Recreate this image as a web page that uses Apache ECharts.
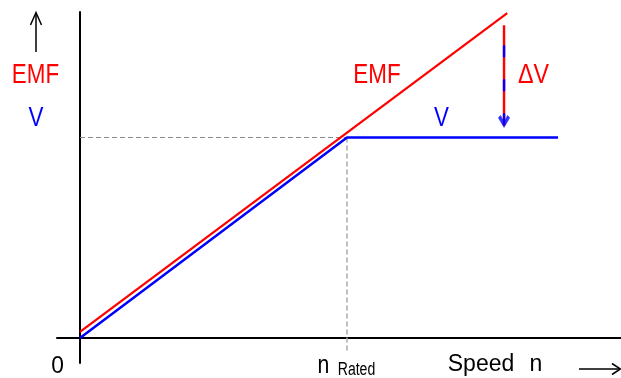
<!DOCTYPE html>
<html>
<head>
<meta charset="utf-8">
<script src="https://cdn.jsdelivr.net/npm/echarts@6/dist/echarts.min.js"></script>
<style>
html,body{margin:0;padding:0;background:#fff;}
#chart{width:621px;height:378px;}
</style>
</head>
<body>
<div id="chart"></div>
<script>
// Speed (x, in units of rated speed) vs voltage (y, in units of rated V)
const emfLine = [[0, 0.03], [1.6, 1.62]];
const vLine = [[0, 0], [1, 1], [1.79, 1]];
const ratedH = [[0, 1], [1, 1]];
const ratedV = [[1, 1], [1, -0.07]];
const dvShaft = [[1.588, 1.56], [1.588, 1.06]];
const dvDash = [[1.588, 1.46], [1.588, 1.06]];
const dvTip = [[1.588, 1.047]];
const xRange = [-0.0861, 2.026];
const yRange = [-0.125, 1.626];

const FONT = 'Liberation Sans, Arial, sans-serif';
const chevron = 'path://M0,2.2 L2.2,0 L5,5.6 L7.8,0 L10,2.2 L5,11 Z';

function txt(text, x, y, size, color, sx, align) {
  return {
    type: 'text', x: x, y: y, scaleX: sx || 1, silent: true,
    style: {text: text, fill: color, font: size + 'px ' + FONT,
            textAlign: align || 'center', textVerticalAlign: 'middle'}
  };
}

const chart = echarts.init(document.getElementById('chart'), null, {renderer: 'canvas'});
chart.setOption({
  animation: false,
  backgroundColor: '#fff',
  grid: {left: 57, right: 0, top: 12, bottom: 15, containLabel: false},
  xAxis: {
    type: 'value', min: xRange[0], max: xRange[1],
    axisLine: {show: true, onZero: true, lineStyle: {color: '#000', width: 2}},
    axisTick: {show: false}, axisLabel: {show: false}, splitLine: {show: false}
  },
  yAxis: {
    type: 'value', min: yRange[0], max: yRange[1],
    axisLine: {show: true, onZero: true, lineStyle: {color: '#000', width: 2}},
    axisTick: {show: false}, axisLabel: {show: false}, splitLine: {show: false}
  },
  series: [
    {type: 'line', data: ratedH, symbol: 'none', silent: true,
     lineStyle: {color: '#888', width: 1, type: [5, 3]}},
    {type: 'line', data: ratedV, symbol: 'none', silent: true,
     lineStyle: {color: '#aaa', width: 1.5, type: [5, 3]}},
    {name: 'EMF', type: 'line', data: emfLine, symbol: 'none', silent: true,
     lineStyle: {color: '#ff0000', width: 2.2}},
    {name: 'V', type: 'line', data: vLine, symbol: 'none', silent: true,
     lineStyle: {color: '#0000ff', width: 2.5}},
    {type: 'line', data: dvShaft, symbol: 'none', silent: true,
     lineStyle: {color: '#ff0000', width: 2.4}},
    {type: 'line', data: dvDash, symbol: 'none', silent: true,
     lineStyle: {color: '#0000ff', width: 2.4, type: [12, 22]}},
    {type: 'scatter', data: dvTip, symbol: chevron, symbolSize: [12, 13],
     symbolOffset: [0, '-50%'], silent: true, itemStyle: {color: '#0000ff'}}
  ],
  graphic: [
    // up arrow (vertical axis direction)
    {type: 'polyline', silent: true, shape: {points: [[36, 52], [36, 13]]}, style: {stroke: '#000', lineWidth: 1.5, fill: null}},
    {type: 'polyline', silent: true, shape: {points: [[30.5, 25], [36, 12.5], [41.5, 25]]}, style: {stroke: '#000', lineWidth: 1.5, fill: null}},
    // right arrow (horizontal axis direction)
    {type: 'polyline', silent: true, shape: {points: [[579, 369], [620, 369]]}, style: {stroke: '#000', lineWidth: 1.5, fill: null}},
    {type: 'polyline', silent: true, shape: {points: [[612, 363.5], [620.5, 369], [612, 374.5]]}, style: {stroke: '#000', lineWidth: 1.5, fill: null}},
    txt('EMF', 35.5, 75, 28, '#ff0000', 0.8),
    txt('V', 36, 118, 28, '#0000ff', 0.8),
    txt('EMF', 377, 75, 28, '#ff0000', 0.8),
    txt('V', 441.5, 118, 28, '#0000ff', 0.8),
    txt('\u0394V', 533.5, 75, 28, '#ff0000', 0.83),
    txt('0', 57.5, 366.7, 24, '#000', 0.95),
    txt('n', 323.5, 366.3, 25, '#000', 0.85),
    txt('Rated', 356.5, 369.8, 18, '#000', 0.78),
    txt('Speed', 481, 365, 23, '#000', 1),
    txt('n', 536, 365, 23, '#000', 1)
  ]
});
</script>
</body>
</html>
